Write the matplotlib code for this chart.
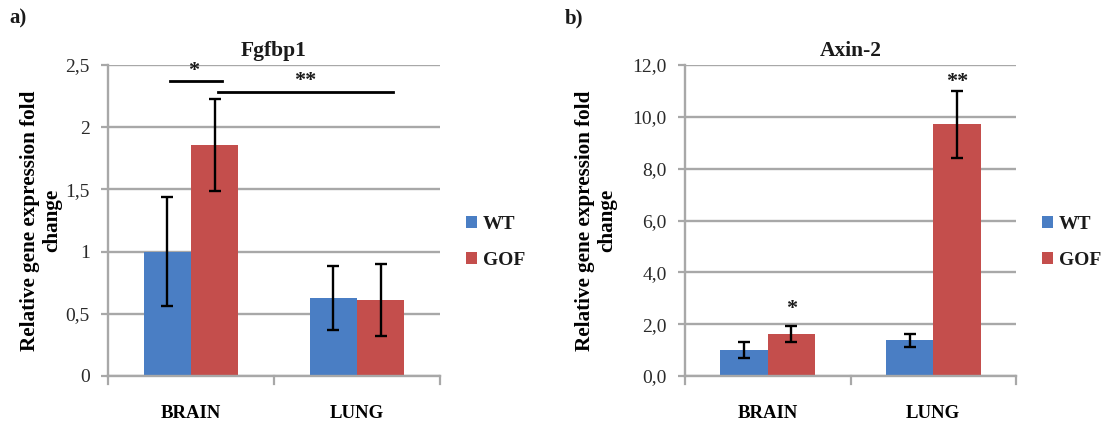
"""Relative gene expression of Fgfbp1 and Axin-2 in brain and lung, WT versus GOF."""

import matplotlib

matplotlib.use("Agg")

import matplotlib.pyplot as plt
import numpy as np

tissues = ["BRAIN", "LUNG"]
genotypes = ["WT", "GOF"]

fgfbp1_wt = [1.00, 0.627]
fgfbp1_wt_err = [0.44, 0.255]
fgfbp1_gof = [1.86, 0.614]
fgfbp1_gof_err = [0.37, 0.29]

axin2_wt = [1.00, 1.38]
axin2_wt_err = [0.30, 0.245]
axin2_gof = [1.62, 9.72]
axin2_gof_err = [0.29, 1.29]

fgfbp1_ticks = [0, 0.5, 1, 1.5, 2, 2.5]
fgfbp1_ticklabels = ["0", "0,5", "1", "1,5", "2", "2,5"]
axin2_ticks = [0, 2, 4, 6, 8, 10, 12]
axin2_ticklabels = ["0,0", "2,0", "4,0", "6,0", "8,0", "10,0", "12,0"]

WT_COLOUR = "#4a7ec4"
GOF_COLOUR = "#c44e4c"
GRID_COLOUR = "#a8a8a8"
TEXT_COLOUR = "#1a1a1a"
FONT = ["Liberation Serif", "DejaVu Serif"]
BAR_WIDTH = 0.286

plt.rcParams["font.family"] = FONT
plt.rcParams["font.weight"] = "bold"
plt.rcParams["text.color"] = TEXT_COLOUR

W, H = 1109, 437
fig = plt.figure(figsize=(W / 100, H / 100), dpi=100)


def px_axes(left, top, right, bottom):
    return fig.add_axes([left / W, 1 - bottom / H, (right - left) / W, (bottom - top) / H])


def draw_panel(ax, wt, wt_err, gof, gof_err, ticks, ticklabels, title, label_x):
    x = np.arange(len(tissues))
    err_style = dict(ecolor="black", elinewidth=1.7, capsize=4.5, capthick=1.7)
    ax.bar(x - BAR_WIDTH / 2, wt, BAR_WIDTH, color=WT_COLOUR, yerr=wt_err,
           error_kw=err_style, zorder=2, label=genotypes[0])
    ax.bar(x + BAR_WIDTH / 2, gof, BAR_WIDTH, color=GOF_COLOUR, yerr=gof_err,
           error_kw=err_style, zorder=2, label=genotypes[1])
    ax.set_xlim(-0.5, len(tissues) - 0.5)
    ax.set_ylim(ticks[0], ticks[-1])
    ax.set_yticks(ticks)
    ax.set_yticklabels(ticklabels, fontweight="normal", fontsize=14, color="#2a2a2a")
    ax.set_xticks(x)
    ax.set_xticklabels(tissues, fontsize=13.5)
    ax.tick_params(axis="x", length=0, pad=21)
    ax.tick_params(axis="y", length=5, width=1.6, color=GRID_COLOUR, pad=8)
    # category boundary ticks on the bottom axis
    for b in np.arange(len(tissues) + 1) - 0.5:
        ax.plot([b, b], [0, -0.025], transform=ax.get_xaxis_transform(),
                color=GRID_COLOUR, lw=1.6, clip_on=False)
    ax.yaxis.grid(True, color=GRID_COLOUR, linewidth=1.7, zorder=0)
    ax.set_axisbelow(True)
    for side in ("top", "right"):
        ax.spines[side].set_visible(False)
    for side in ("left", "bottom"):
        ax.spines[side].set_color(GRID_COLOUR)
        ax.spines[side].set_linewidth(1.7)
    ax.text(0.5, 1 + 14 / 312, title, transform=ax.transAxes, ha="center",
            va="center", fontsize=15.5, fontweight="bold")
    ax.set_ylabel("Relative gene expression fold\nchange", fontsize=15.2,
                  fontweight="bold", linespacing=1.15)
    ax.yaxis.set_label_coords(label_x, 0.5)
    ax.legend(loc="center left", bbox_to_anchor=(1 + 26 / 331, 0.43), frameon=False,
              fontsize=14, handlelength=0.57, handleheight=0.57, handletextpad=0.28,
              labelspacing=0.95, borderpad=0, borderaxespad=0)


ax_a = px_axes(108, 65, 440, 376)
draw_panel(ax_a, fgfbp1_wt, fgfbp1_wt_err, fgfbp1_gof, fgfbp1_gof_err,
           fgfbp1_ticks, fgfbp1_ticklabels, "Fgfbp1", -0.139)
ax_a.plot([-0.127, 0.185], [2.368, 2.368], color="black", lw=2, clip_on=False)
ax_a.plot([0.163, 1.217], [2.28, 2.28], color="black", lw=2, clip_on=False)
ax_a.text(0.018, 2.45, "*", ha="center", va="center", fontsize=16)
ax_a.text(0.687, 2.37, "**", ha="center", va="center", fontsize=16)

ax_b = px_axes(685, 65, 1016, 376)
draw_panel(ax_b, axin2_wt, axin2_wt_err, axin2_gof, axin2_gof_err,
           axin2_ticks, axin2_ticklabels, "Axin-2", -0.205)
ax_b.text(BAR_WIDTH / 2, 2.6, "*", ha="center", va="center", fontsize=16)
ax_b.text(1 + BAR_WIDTH / 2, 11.35, "**", ha="center", va="center", fontsize=16)

fig.text(9 / W, 1 - 18 / H, "a)", fontsize=15, va="center", ha="left")
fig.text(565 / W, 1 - 18 / H, "b)", fontsize=15, va="center", ha="left")

fig.savefig("out.png", dpi=100)
